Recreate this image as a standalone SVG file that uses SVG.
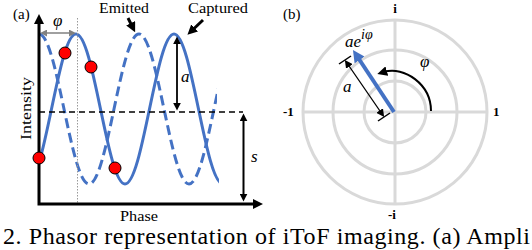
<svg xmlns="http://www.w3.org/2000/svg" width="532" height="250" viewBox="0 0 532 250">
<style>
.t{font-family:"Liberation Serif","Times New Roman",serif;fill:#000}
.m{font-family:"Liberation Serif","Times New Roman",serif;font-style:italic;fill:#000}
.b{font-family:"Liberation Serif","Times New Roman",serif;font-weight:bold;fill:#000;font-size:13px}
.wave{fill:none;stroke:#4472C4;stroke-width:3}
.grid{fill:none;stroke:#d9d9d9;stroke-width:3}
.dot{fill:#ff0000;stroke:#000;stroke-width:1}
</style>
<defs>
<marker id="big" viewBox="0 0 10 10" refX="3" refY="5" markerWidth="10" markerHeight="10" markerUnits="userSpaceOnUse" orient="auto-start-reverse"><path d="M0,0 L10,5 L0,10 z" fill="#000"/></marker>
<marker id="sm" viewBox="0 0 10 10" refX="3" refY="5" markerWidth="8" markerHeight="8" markerUnits="userSpaceOnUse" orient="auto-start-reverse"><path d="M0,0 L10,5 L0,10 z" fill="#000"/></marker>
<marker id="gr" viewBox="0 0 10 10" refX="3" refY="5" markerWidth="7" markerHeight="7" markerUnits="userSpaceOnUse" orient="auto-start-reverse"><path d="M0,0 L10,5 L0,10 z" fill="#808080"/></marker>
<marker id="bl" viewBox="0 0 10 10" refX="3" refY="5" markerWidth="12" markerHeight="12" markerUnits="userSpaceOnUse" orient="auto"><path d="M0,0 L10,5 L0,10 z" fill="#4472C4"/></marker>
<clipPath id="cCap"><rect x="39" y="0" width="180" height="250"/></clipPath>
<clipPath id="cEmi"><rect x="38" y="0" width="179" height="250"/></clipPath>
</defs>

<g id="panel-a">
  <g id="captured-wave">
    <path class="wave" clip-path="url(#cCap)" d="M27,184 C35.870,184 43.51,147.4 51.5,109 C59.49,70.6 67.13,34 76,34 C84.87,34 92.51,70.6 100.5,109 C108.49,147.4 116.13,184 125,184 C133.87,184 141.51,147.4 149.5,109 C157.49,70.6 165.13,34 174,34 C182.87,34 190.51,70.6 198.5,109 C206.49,147.4 214.13,184 223,184"/>
  </g>
  <g id="emitted-wave">
    <path class="wave" stroke-dasharray="10 5" clip-path="url(#cEmi)" d="M39,34 C48.05,34 55.85,70.6 64,109 C72.15,147.4 79.95,184 89,184 C98.05,184 105.85,147.4 114,109 C122.15,70.6 129.95,34 139,34 C148.05,34 155.85,70.6 164,109 C172.15,147.4 179.950,184 189,184 C198.05,184 205.85,147.4 214,109 C222.15,70.6 229.95,34 239,34"/>
  </g>
  <g id="guides">
    <line x1="77.5" y1="18" x2="77.5" y2="204" stroke="#999" stroke-width="1" stroke-dasharray="1.5 1.5"/>
    <line x1="39" y1="112" x2="243" y2="112" stroke="#000" stroke-width="1.5" stroke-dasharray="6 4"/>
  </g>
  <g id="axes">
    <path d="M39,21 L39,204 L256,204" fill="none" stroke="#000" stroke-width="3" marker-start="url(#big)" marker-end="url(#big)"/>
  </g>
  <g id="samples">
    <circle class="dot" cx="65" cy="53" r="6"/>
    <circle class="dot" cx="91" cy="67" r="6"/>
    <circle class="dot" cx="39" cy="158" r="6"/>
    <circle class="dot" cx="115" cy="168" r="6"/>
  </g>
  <g id="connectors-a">
    <line x1="45" y1="33" x2="71" y2="33" stroke="#808080" stroke-width="1.5" marker-start="url(#gr)" marker-end="url(#gr)"/>
    <line x1="177" y1="42" x2="177" y2="105" stroke="#000" stroke-width="1.8" marker-start="url(#sm)" marker-end="url(#sm)"/>
    <line x1="243.5" y1="119" x2="243.5" y2="196" stroke="#000" stroke-width="2" marker-start="url(#sm)" marker-end="url(#sm)"/>
    <line x1="128" y1="18" x2="132" y2="26" stroke="#000" stroke-width="3" marker-end="url(#big)"/>
    <line x1="203" y1="20" x2="192.5" y2="30" stroke="#000" stroke-width="3" marker-end="url(#big)"/>
  </g>
  <g id="labels-a">
    <text class="t" x="13" y="19" font-size="15">(a)</text>
    <text class="t" x="99" y="13" font-size="15" textLength="50" lengthAdjust="spacingAndGlyphs">Emitted</text>
    <text class="t" x="188" y="13" font-size="15" textLength="60" lengthAdjust="spacingAndGlyphs">Captured</text>
    <text class="m" x="53" y="26" font-size="17">φ</text>
    <text class="m" x="181" y="82" font-size="17">a</text>
    <text class="m" x="251" y="162" font-size="17">s</text>
    <text class="t" x="0" y="0" font-size="15" text-anchor="middle" transform="translate(31,108.5) rotate(-90)" textLength="63" lengthAdjust="spacingAndGlyphs">Intensity</text>
    <text class="t" x="139" y="221" font-size="14" text-anchor="middle" textLength="38" lengthAdjust="spacingAndGlyphs">Phase</text>
  </g>
</g>

<g id="panel-b">
  <g id="polar-grid">
    <circle class="grid" cx="395" cy="112" r="31"/>
    <circle class="grid" cx="395" cy="112" r="62"/>
    <circle class="grid" cx="395" cy="112" r="92"/>
    <line class="grid" x1="302" y1="112" x2="488" y2="112"/>
    <line class="grid" x1="395" y1="19" x2="395" y2="205"/>
  </g>
  <g id="connectors-b">
    <line x1="394" y1="112" x2="357.6" y2="57" stroke="#4472C4" stroke-width="4" marker-end="url(#bl)"/>
    <line x1="381" y1="112.5" x2="348" y2="64.5" stroke="#000" stroke-width="1.3" marker-start="url(#sm)" marker-end="url(#sm)"/>
    <line x1="339" y1="64" x2="351" y2="56" stroke="#000" stroke-width="1.5"/>
    <line x1="378" y1="121" x2="390" y2="113" stroke="#000" stroke-width="1.5"/>
    <path d="M431,111 C431,84 404,66 384,72" fill="none" stroke="#000" stroke-width="2" marker-end="url(#big)"/>
  </g>
  <g id="labels-b">
    <text class="t" x="283" y="19" font-size="15">(b)</text>
    <text class="b" x="395" y="13" text-anchor="middle">i</text>
    <text class="b" x="283" y="116">-1</text>
    <text class="b" x="493" y="116">1</text>
    <text class="b" x="392" y="219" font-size="12" text-anchor="middle">-i</text>
    <text class="m" x="343" y="92" font-size="17">a</text>
    <text class="m" x="345" y="47" font-size="17">ae<tspan font-size="14" dy="-8">iφ</tspan></text>
    <text class="m" x="420" y="67" font-size="17">φ</text>
  </g>
</g>

<text class="t" x="3" y="244" font-size="24" textLength="527" lengthAdjust="spacing">2.  Phasor representation of iToF imaging.  (a) Ampli</text>
</svg>
